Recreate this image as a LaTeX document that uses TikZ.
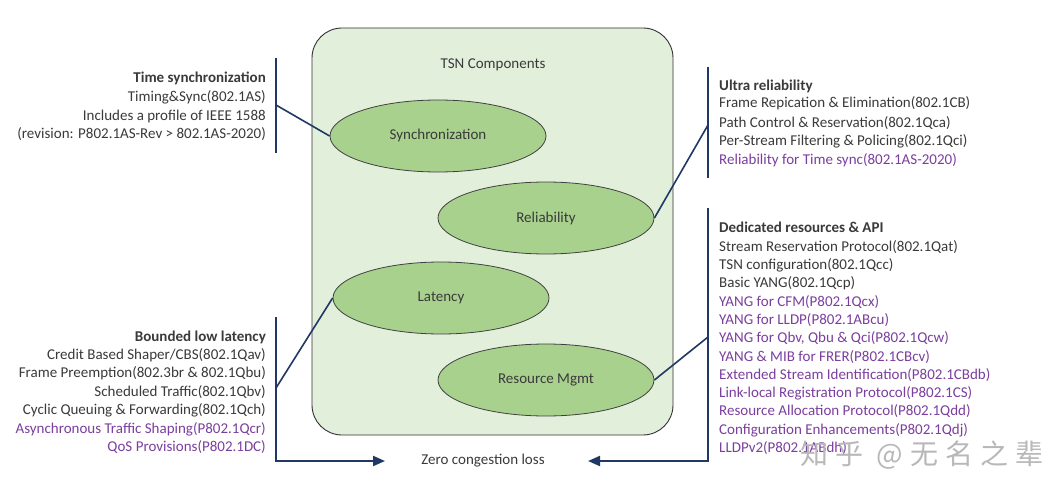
\documentclass[tikz,border=0pt]{standalone}
\usepackage{fontspec}
\setmainfont{Carlito}
\newfontfamily\cjk[LetterSpace=25]{Noto Sans CJK SC}
\usetikzlibrary{shapes.geometric,arrows.meta}
\definecolor{boxfill}{HTML}{E2EFDA}
\definecolor{ellfill}{HTML}{A9D18E}
\definecolor{linec}{HTML}{1F3864}
\definecolor{txt}{HTML}{3A3A3A}
\definecolor{purp}{HTML}{7B3F9E}
\tikzset{
  comp/.style={ellipse, draw=black!75, fill=ellfill, line width=0.8pt, minimum width=216pt, minimum height=72pt, inner sep=0pt, text=txt, font=\fontsize{15}{18}\selectfont},
  bar/.style={draw=linec, line width=2pt},
  conn/.style={draw=linec, line width=1.6pt},
  lbl/.style={text=txt, font=\fontsize{15}{18}\selectfont, inner sep=0pt},
  ltxt/.style={lbl, anchor=base east},
  rtxt/.style={lbl, anchor=base west},
  flow/.style={draw=linec, line width=2pt, -{Triangle[length=12pt,width=10pt]}}
}
\begin{document}
\begin{tikzpicture}[x=1pt,y=-1pt]
\useasboundingbox[fill=white] (0,0) rectangle (1064,500);
% main container
\draw[fill=boxfill, draw=black!80, line width=0.9pt, rounded corners=30pt] (312,28) rectangle (673,435);
\node[lbl] (title) at (493,65) {TSN Components};
% ellipses
\node[comp] (sync) at (438,136) {Synchronization};
\node[comp] (rel) at (546,218) {Reliability};
\node[comp] (lat) at (441,298) {Latency};
\node[comp] (res) at (546,380) {Resource Mgmt};
% bars
\coordinate (lt1) at (276,58); \coordinate (lt2) at (276,153);
\coordinate (lb1) at (276,317); \coordinate (lb2) at (276,462);
\coordinate (rt1) at (708,67); \coordinate (rt2) at (708,178);
\coordinate (rb1) at (708,208); \coordinate (rb2) at (708,462);
\draw[bar] (lt1) -- (lt2);
\draw[bar] (lb1) -- (lb2);
\draw[bar] (rt1) -- (rt2);
\draw[bar] (rb1) -- (rb2);
% connectors
\coordinate (lta) at (276,105);
\coordinate (lba) at (276,388);
\coordinate (rta) at (708,125);
\coordinate (rba) at (708,337);
\draw[conn] (lta) -- (sync.west);
\draw[conn] (lba) -- (lat.west);
\draw[conn] (rta) -- (rel.east);
\draw[conn] (rba) -- (res.east);
% bottom arrows
\coordinate (al) at (276,461); \coordinate (alt) at (385,461);
\coordinate (ar) at (708,461); \coordinate (art) at (588,461);
\draw[flow] (al) -- (alt);
\draw[flow] (ar) -- (art);
\node[lbl] (zero) at (483,461) {Zero congestion loss};
% left top text
\node[ltxt] (t0) at (266,83) {\bfseries Time synchronization};
\node[ltxt] (t1) at (266,102) {Timing\&Sync(802.1AS)};
\node[ltxt] (t2) at (266,121) {Includes a profile of IEEE 1588};
\node[ltxt] (t3) at (266,139) {(revision: P802.1AS-Rev > 802.1AS-2020)};
% left bottom text
\node[ltxt] (b0) at (266,341) {\bfseries Bounded low latency};
\node[ltxt] (b1) at (266,359) {Credit Based Shaper/CBS(802.1Qav)};
\node[ltxt] (b2) at (266,377) {Frame Preemption(802.3br \& 802.1Qbu)};
\node[ltxt] (b3) at (266,396) {Scheduled Traffic(802.1Qbv)};
\node[ltxt] (b4) at (266,414) {Cyclic Queuing \& Forwarding(802.1Qch)};
\node[ltxt, text=purp] (b5) at (266,433) {Asynchronous Traffic Shaping(P802.1Qcr)};
\node[ltxt, text=purp] (b6) at (266,451) {QoS Provisions(P802.1DC)};
% right top text
\node[rtxt] (u0) at (719,91) {\bfseries Ultra reliability};
\node[rtxt] (u1) at (719,108) {Frame Repication \& Elimination(802.1CB)};
\node[rtxt] (u2) at (719,127) {Path Control \& Reservation(802.1Qca)};
\node[rtxt] (u3) at (719,145) {Per-Stream Filtering \& Policing(802.1Qci)};
\node[rtxt, text=purp] (u4) at (719,164) {Reliability for Time sync(802.1AS-2020)};
% right bottom text
\node[rtxt] (d0) at (719,232) {\bfseries Dedicated resources \& API};
\node[rtxt] (d1) at (719,251) {Stream Reservation Protocol(802.1Qat)};
\node[rtxt] (d2) at (719,269) {TSN configuration(802.1Qcc)};
\node[rtxt] (d3) at (719,287) {Basic YANG(802.1Qcp)};
\node[rtxt, text=purp] (d4) at (719,306) {YANG for CFM(P802.1Qcx)};
\node[rtxt, text=purp] (d5) at (719,324) {YANG for LLDP(P802.1ABcu)};
\node[rtxt, text=purp] (d6) at (719,342) {YANG for Qbv, Qbu \& Qci(P802.1Qcw)};
\node[rtxt, text=purp] (d7) at (719,361) {YANG \& MIB for FRER(P802.1CBcv)};
\node[rtxt, text=purp] (d8) at (719,379) {Extended Stream Identification(P802.1CBdb)};
\node[rtxt, text=purp] (d9) at (719,397) {Link-local Registration Protocol(P802.1CS)};
\node[rtxt, text=purp] (d10) at (719,415) {Resource Allocation Protocol(P802.1Qdd)};
\node[rtxt, text=purp] (d11) at (719,434) {Configuration Enhancements(P802.1Qdj)};
\node[rtxt, text=purp] (d12) at (719,452) {LLDPv2(P802.1ABdh)};
% watermark
\node[text=black!28, font=\cjk\fontsize{28}{30}\selectfont, inner sep=0pt] (wm) at (922,455) {知乎 @无名之辈};
\end{tikzpicture}
\end{document}
